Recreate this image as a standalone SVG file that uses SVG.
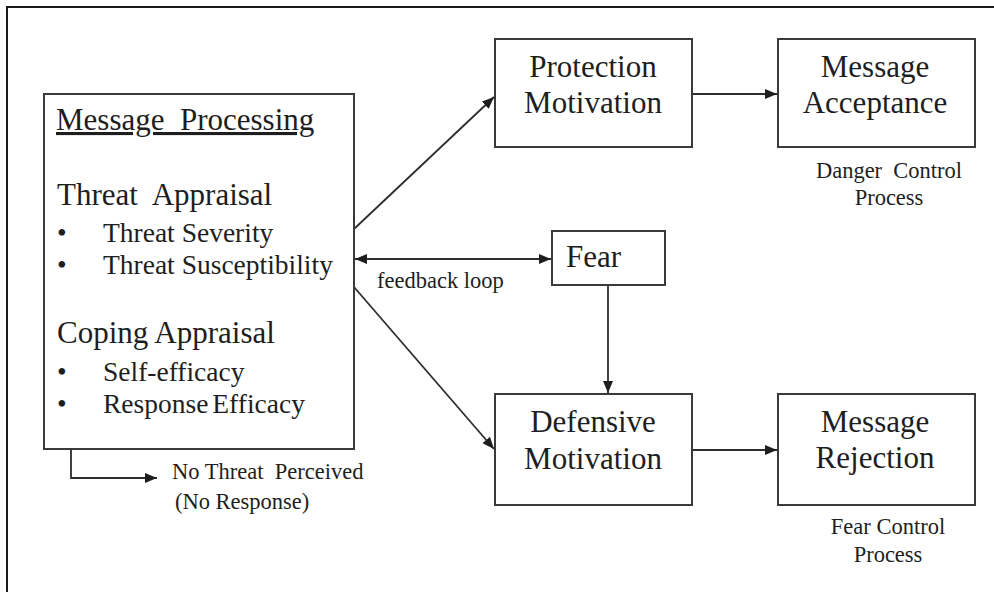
<svg xmlns="http://www.w3.org/2000/svg" width="994" height="592" viewBox="0 0 994 592">
  <style>
    .box { fill: #ffffff; stroke: #3a3a3a; stroke-width: 2; }
    .edge { fill: none; stroke: #2e2e2e; stroke-width: 1.8; }
    .t { font-family: "Liberation Serif", "Times New Roman", serif; fill: #1e1e1e; }
    .big { font-size: 31px; }
    .mid { font-size: 27.5px; }
    .small { font-size: 22.5px; }
    .c { text-anchor: middle; }
  </style>
  <defs>
    <marker id="arrow" viewBox="0 0 12 10" refX="12" refY="5" markerWidth="12" markerHeight="10" markerUnits="userSpaceOnUse" orient="auto-start-reverse">
      <path d="M0,0 L12,5 L0,10 z" fill="#1e1e1e"/>
    </marker>
  </defs>

  <rect width="994" height="592" fill="#ffffff"/>

  <!-- outer frame (top and left edges) -->
  <path d="M7,592 V7 H994" fill="none" stroke="#1a1a1a" stroke-width="2"/>

  <!-- connectors -->
  <g id="connectors">
    <line class="edge" x1="354" y1="229" x2="494" y2="97" marker-end="url(#arrow)"/>
    <line class="edge" x1="354" y1="287" x2="494" y2="449" marker-end="url(#arrow)"/>
    <line class="edge" x1="355" y1="259" x2="551" y2="259" marker-start="url(#arrow)" marker-end="url(#arrow)"/>
    <line class="edge" x1="608" y1="285" x2="608" y2="393" marker-end="url(#arrow)"/>
    <line class="edge" x1="692" y1="94" x2="777" y2="94" marker-end="url(#arrow)"/>
    <line class="edge" x1="692" y1="450" x2="777" y2="450" marker-end="url(#arrow)"/>
    <path class="edge" d="M71,449 V478 H157" marker-end="url(#arrow)"/>
  </g>

  <!-- message processing -->
  <g id="message-processing">
    <rect class="box" x="44" y="94" width="310" height="355"/>
    <text class="t big" x="56" y="130" xml:space="preserve" text-decoration="underline">Message  Processing</text>
    <text class="t big" x="57" y="205" xml:space="preserve">Threat  Appraisal</text>
    <text class="t mid" x="57" y="242">•</text>
    <text class="t mid" x="103" y="242" font-size="27">Threat Severity</text>
    <text class="t mid" x="57" y="274">•</text>
    <text class="t mid" x="103" y="274" font-size="27">Threat Susceptibility</text>
    <text class="t big" x="57" y="343">Coping Appraisal</text>
    <text class="t mid" x="57" y="381">•</text>
    <text class="t mid" x="103" y="381" font-size="27">Self-efficacy</text>
    <text class="t mid" x="57" y="413">•</text>
    <text class="t mid" x="103" y="413" word-spacing="-3">Response Efficacy</text>
  </g>

  <g id="no-threat">
    <text class="t small" x="172" y="479" xml:space="preserve">No Threat  Perceived</text>
    <text class="t small" x="175" y="509">(No Response)</text>
  </g>

  <g id="feedback-label">
    <text class="t small" x="377" y="288">feedback loop</text>
  </g>

  <!-- protection motivation -->
  <g id="protection-motivation">
    <rect class="box" x="495" y="39" width="197" height="108"/>
    <text class="t big c" x="593" y="77">Protection</text>
    <text class="t big c" x="593" y="113">Motivation</text>
  </g>

  <!-- message acceptance -->
  <g id="message-acceptance">
    <rect class="box" x="778" y="39" width="197" height="108"/>
    <text class="t big c" x="875" y="77">Message</text>
    <text class="t big c" x="875" y="113">Acceptance</text>
    <text class="t small c" x="889" y="178" xml:space="preserve">Danger  Control</text>
    <text class="t small c" x="889" y="205">Process</text>
  </g>

  <!-- fear -->
  <g id="fear">
    <rect class="box" x="552" y="231" width="113" height="54"/>
    <text class="t big" x="566" y="267">Fear</text>
  </g>

  <!-- defensive motivation -->
  <g id="defensive-motivation">
    <rect class="box" x="495" y="394" width="197" height="111"/>
    <text class="t big c" x="593" y="432">Defensive</text>
    <text class="t big c" x="593" y="469">Motivation</text>
  </g>

  <!-- message rejection -->
  <g id="message-rejection">
    <rect class="box" x="778" y="394" width="197" height="111"/>
    <text class="t big c" x="875" y="432">Message</text>
    <text class="t big c" x="875" y="468">Rejection</text>
    <text class="t small c" x="888" y="534">Fear Control</text>
    <text class="t small c" x="888" y="562">Process</text>
  </g>
</svg>
